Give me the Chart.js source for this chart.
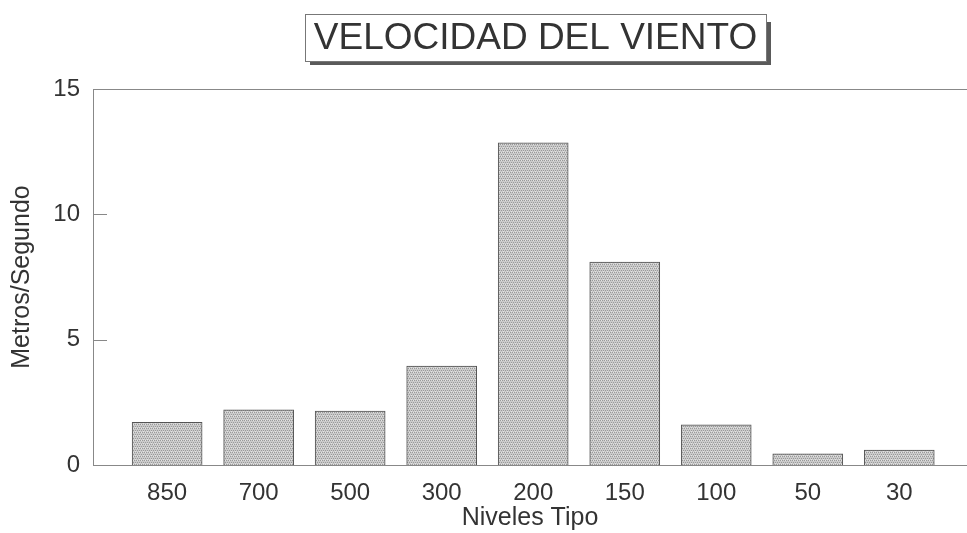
<html><head>
<meta charset="UTF-8">
<title>Velocidad del viento</title>
<style>
  body { margin: 0; padding: 0; background: white; }
  #chart { display: block; }
</style>
<script src="https://cdn.jsdelivr.net/npm/chart.js"></script>
</head>
<body>
  <canvas id="chart" width="967" height="533"></canvas>

  <script>
    // datos
    var niveles = ['850', '700', '500', '300', '200', '150', '100', '50', '30'];
    var velocidad = [1.7, 2.2, 2.15, 3.95, 12.85, 8.1, 1.6, 0.45, 0.6];
    var yTicks = [0, 5, 10, 15];
    var titulo = 'VELOCIDAD DEL VIENTO';
    var font = "'Liberation Sans', Arial, sans-serif";

    // textura punteada de las barras
    function makePattern() {
      var c = document.createElement('canvas');
      c.width = 4; c.height = 4;
      var g = c.getContext('2d');
      g.fillStyle = '#cacaca';
      g.fillRect(0, 0, 4, 4);
      g.fillStyle = '#999';
      g.fillRect(0, 0, 1, 1);
      g.fillRect(2, 0, 1, 1);
      g.fillRect(1, 2, 1, 1);
      g.fillRect(3, 2, 1, 1);
      g.fillStyle = '#e2e2e2';
      g.fillRect(1, 0, 1, 1);
      g.fillRect(3, 3, 1, 1);
      return document.getElementById('chart').getContext('2d').createPattern(c, 'repeat');
    }

    var points = niveles.map(function (n, i) { return { x: i, y: velocidad[i] }; });

    // caja del titulo con sombra, marco superior y marcas hacia dentro
    var decor = {
      id: 'decor',
      afterDraw: function (chart) {
        var ctx = chart.ctx, a = chart.chartArea, ys = chart.scales.y;
        ctx.save();
        ctx.strokeStyle = '#888';
        ctx.lineWidth = 1;
        ctx.beginPath();
        ctx.moveTo(a.left, a.top + 0.5);
        ctx.lineTo(a.right, a.top + 0.5);
        ys.ticks.forEach(function (t) {
          var py = Math.round(ys.getPixelForValue(t.value)) + 0.5;
          ctx.moveTo(a.left, py);
          ctx.lineTo(a.left + 14, py);
        });
        ctx.stroke();

        var bx = 305, by = 14, bw = 461, bh = 47;
        ctx.fillStyle = '#5a5a5a';
        ctx.fillRect(bx + 5, by + 8, bw, bh - 4);
        ctx.fillStyle = '#fff';
        ctx.fillRect(bx, by, bw, bh);
        ctx.strokeStyle = '#777';
        ctx.strokeRect(bx + 0.5, by + 0.5, bw, bh);
        ctx.fillStyle = '#333';
        ctx.font = '37px ' + font;
        ctx.textAlign = 'center';
        ctx.textBaseline = 'middle';
        ctx.fillText(titulo, bx + bw / 2, by + bh / 2 + 1);
        ctx.restore();
      }
    };

    new Chart(document.getElementById('chart'), {
      type: 'bar',
      data: {
        datasets: [{
          data: points,
          backgroundColor: makePattern(),
          borderColor: '#555',
          borderWidth: 1,
          barThickness: 70
        }]
      },
      options: {
        responsive: false,
        animation: false,
        layout: { padding: { top: 89, right: 0, bottom: 0, left: 0 } },
        plugins: { legend: { display: false }, tooltip: { enabled: false } },
        scales: {
          x: {
            type: 'linear',
            offset: false,
            min: -0.81,
            max: 8.74,
            grid: { display: false },
            border: { display: true, color: '#888', width: 1 },
            afterFit: function (s) { s.height = 68; },
            afterBuildTicks: function (s) {
              s.ticks = niveles.map(function (n, i) { return { value: i }; });
            },
            ticks: {
              autoSkip: false,
              maxRotation: 0,
              padding: 6,
              color: '#333',
              font: { family: font, size: 24 },
              callback: function (v) { return niveles[v]; }
            },
            title: {
              display: true,
              text: 'Niveles Tipo',
              color: '#333',
              padding: 0,
              font: { family: font, size: 25 }
            }
          },
          y: {
            min: 0,
            max: 15,
            grid: { display: false, drawTicks: false },
            border: { display: true, color: '#888', width: 1 },
            afterFit: function (s) { s.width = 93; },
            afterBuildTicks: function (s) {
              s.ticks = yTicks.map(function (v) { return { value: v }; });
            },
            ticks: {
              padding: 13,
              color: '#333',
              font: { family: font, size: 24 }
            },
            title: {
              display: true,
              text: 'Metros/Segundo',
              color: '#333',
              padding: { top: 7, bottom: 0 },
              font: { family: font, size: 25 }
            }
          }
        }
      },
      plugins: [decor]
    });
  </script>
</body>
</html>
